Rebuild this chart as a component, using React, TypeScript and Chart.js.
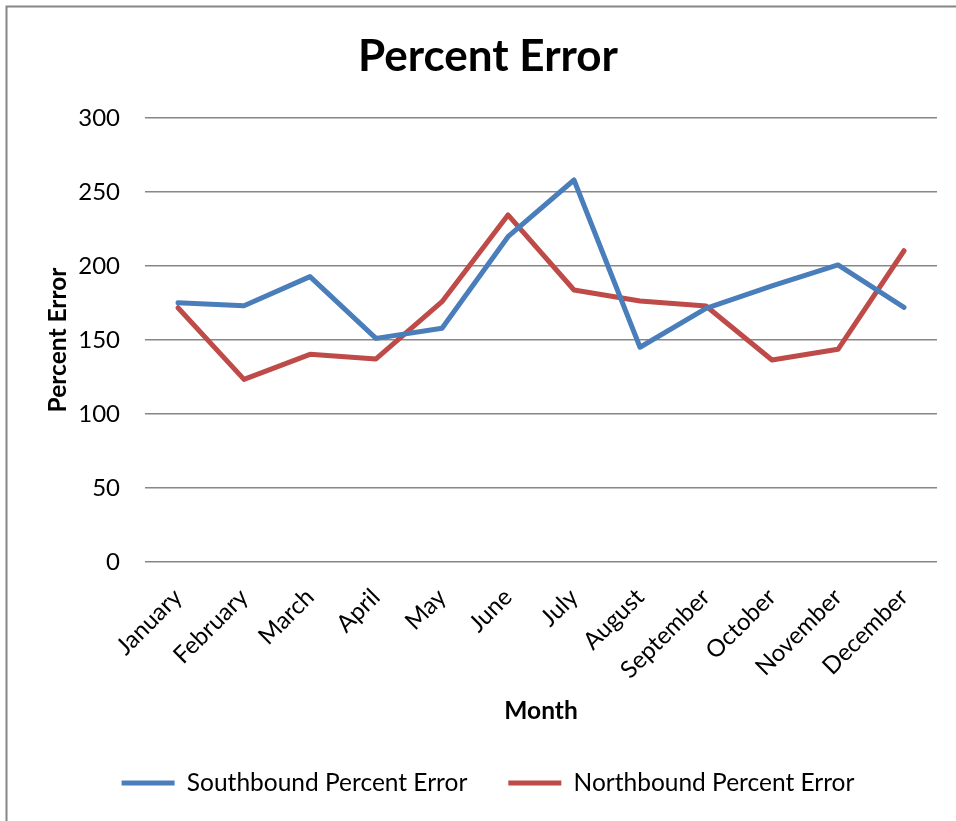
import React, { useEffect, useRef } from "react";
import { Chart, registerables } from "chart.js";

Chart.register(...registerables);

const months = ["January", "February", "March", "April", "May", "June", "July", "August", "September", "October", "November", "December"];
const southbound = [175.2, 173.2, 192.8, 151.1, 157.9, 219.8, 258.1, 145.1, 171.4, 186.5, 200.7, 172.1];
const northbound = [171.8, 123.4, 140.3, 137.2, 175.9, 234.5, 183.8, 176.4, 173.0, 136.5, 143.7, 210.3];
const yMin = 0;
const yMax = 300;
const yStep = 50;

const W = 976;
const H = 821;
const FONT = "Lato";

const framePlugin = {
  id: "frame",
  beforeDraw(chart: any) {
    const ctx = chart.ctx;
    ctx.save();
    ctx.fillStyle = "#ffffff";
    ctx.fillRect(0, 0, chart.width, chart.height);
    ctx.strokeStyle = "#868686";
    ctx.lineWidth = 2;
    ctx.strokeRect(6.5, 6.5, 963, 900);
    ctx.restore();
  },
};

export default function App() {
  const ref = useRef<HTMLCanvasElement>(null);
  useEffect(() => {
    if (!ref.current) return;
    const chart = new Chart(ref.current, {
      type: "line",
      data: {
        labels: months,
        datasets: [
          {
            label: "Southbound Percent Error",
            data: southbound,
            borderColor: "#4A7EBB",
            backgroundColor: "#4A7EBB",
            borderWidth: 5,
            pointRadius: 0,
            tension: 0,
            borderCapStyle: "round",
            borderJoinStyle: "round",
          },
          {
            label: "Northbound Percent Error",
            data: northbound,
            borderColor: "#BE4B48",
            backgroundColor: "#BE4B48",
            borderWidth: 5,
            pointRadius: 0,
            tension: 0,
            borderCapStyle: "round",
            borderJoinStyle: "round",
          },
        ],
      },
      options: {
        responsive: false,
        animation: false,
        devicePixelRatio: 1,
        layout: { padding: { left: 39, right: 39, top: 0, bottom: 15.75 } },
        plugins: {
          title: {
            display: true,
            text: "Percent Error",
            color: "#000",
            font: { family: FONT, size: 44, weight: "bold" },
            padding: { top: 30.6, bottom: 34.6 },
          },
          legend: {
            display: true,
            position: "bottom",
            labels: {
              usePointStyle: true,
              pointStyle: "line",
              pointStyleWidth: 53,
              color: "#000",
              font: { family: FONT, size: 24.5 },
              padding: 41,
            },
          },
          tooltip: { enabled: false },
        },
        scales: {
          x: {
            type: "category",
            offset: true,
            grid: { display: false, drawTicks: false },
            border: { display: false },
            ticks: {
              color: "#000",
              font: { family: FONT, size: 24 },
              minRotation: 45,
              maxRotation: 45,
              autoSkip: false,
              padding: 21,
            },
            title: {
              display: true,
              text: "Month",
              color: "#000",
              font: { family: FONT, size: 24.5, weight: "bold" },
              padding: { top: 0, bottom: 4 },
            },
            afterFit: (s: any) => {
              s.height = 167.75;
            },
          },
          y: {
            min: yMin,
            max: yMax,
            grid: { color: "#878787", lineWidth: 1.5, drawTicks: false },
            border: { display: false },
            ticks: {
              stepSize: yStep,
              color: "#000",
              font: { family: FONT, size: 24 },
              padding: 25,
            },
            title: {
              display: true,
              text: "Percent Error",
              color: "#000",
              font: { family: FONT, size: 24.5, weight: "bold" },
              padding: { top: 4.3, bottom: 0 },
            },
            afterFit: (s: any) => {
              s.width = 106;
            },
          },
        },
      },
      plugins: [framePlugin],
    });
    return () => chart.destroy();
  }, []);
  return (
    <div style={{ position: "absolute", left: 0, top: 0, width: 956, height: 821, overflow: "hidden", background: "#fff" }}>
      <canvas ref={ref} width={W} height={H} style={{ width: W, height: H, display: "block" }} />
    </div>
  );
}
